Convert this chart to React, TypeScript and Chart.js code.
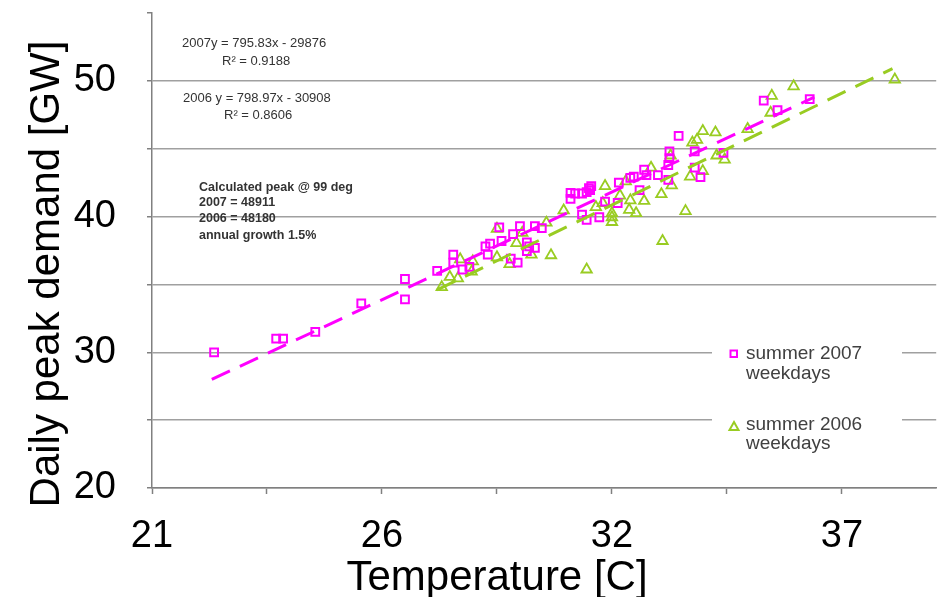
import React, { useEffect, useRef } from "react";
import { Chart, registerables } from "chart.js";

Chart.register(...registerables);

// Temperatures in degrees F (axis labelled in C), peak demand in GW
const temp2007 = [72.7, 75.4, 75.7, 77.1, 79.1, 81.0, 81.0, 82.4, 83.1, 83.1, 83.5, 83.8, 84.5, 84.7, 84.6, 85.2, 85.1, 85.7, 86.0, 86.65, 86.95, 85.6, 85.9, 86.3, 86.4, 86.65, 86.3, 88.2, 88.2, 88.4, 88.7, 89.0, 89.1, 89.05, 88.9, 88.7, 88.9, 89.45, 89.7, 90.25, 90.3, 90.8, 90.95, 91.2, 91.4, 91.5, 92.0, 92.45, 92.45, 92.5, 92.5, 92.9, 93.6, 93.6, 93.85, 94.85, 96.6, 97.2, 98.6];
const peak2007 = [30.0, 31.0, 31.0, 31.5, 33.6, 35.4, 33.9, 36.0, 37.2, 36.6, 36.1, 36.3, 37.8, 38.0, 37.2, 38.2, 39.2, 38.7, 39.3, 39.3, 39.15, 36.9, 36.6, 38.1, 37.8, 37.7, 37.45, 41.75, 41.3, 41.7, 41.7, 42.1, 42.25, 41.95, 41.8, 40.15, 39.75, 39.95, 41.1, 41.0, 42.5, 42.85, 42.95, 41.95, 43.45, 43.05, 43.05, 42.7, 43.8, 44.3, 44.8, 45.95, 44.8, 43.6, 42.9, 44.7, 48.55, 47.85, 48.65];

const temp2006 = [82.6, 82.95, 83.3, 83.4, 83.9, 83.95, 85.0, 85.0, 85.55, 85.85, 86.1, 86.5, 87.15, 87.35, 87.9, 88.9, 89.3, 89.6, 89.7, 90.0, 90.0, 90.0, 90.35, 90.6, 90.75, 90.8, 91.05, 91.4, 91.7, 92.15, 92.6, 92.2, 93.2, 92.55, 93.4, 93.95, 93.5, 93.7, 93.95, 94.5, 94.55, 94.9, 95.9, 96.9, 96.95, 97.9, 102.3];
const peak2006 = [34.8, 35.55, 35.45, 36.85, 35.95, 36.7, 37.0, 39.1, 36.5, 38.05, 38.8, 37.2, 39.55, 37.15, 40.45, 36.1, 40.7, 41.0, 42.25, 40.25, 39.95, 39.6, 41.55, 42.6, 40.5, 41.2, 40.25, 41.15, 43.6, 41.65, 42.3, 38.2, 40.4, 44.5, 42.95, 43.35, 45.45, 45.65, 46.3, 46.2, 44.5, 44.2, 46.45, 47.65, 48.9, 49.6, 50.1];

const trend2007X = [72.6, 98.8];
const trend2007Y = [28.0, 48.8];
const trend2006X = [82.4, 102.2];
const trend2006Y = [34.6, 50.9];

const xTickValues = [70, 80, 90, 100];
const xTickLabels = ["21", "26", "32", "37"];
const yTickValues = [20, 30, 40, 50];

const equationLines = ["2007y = 795.83x - 29876", "R\u00B2 = 0.9188", "2006 y = 798.97x - 30908", "R\u00B2 = 0.8606"];
const peakNoteLines = ["Calculated peak @ 99 deg", "2007 = 48911", "2006 = 48180", "annual growth 1.5%"];
const legendLabels = [["summer 2007", "weekdays"], ["summer 2006", "weekdays"]];

const PINK = "#FF00FF";
const GREEN = "#99CC22";
const FONT = "'Liberation Sans', Arial, sans-serif";

const toPts = (xs: number[], ys: number[]) => xs.map((x, i) => ({ x, y: ys[i] }));

const overlayPlugin = {
  id: "overlay",
  afterDraw(chart: any) {
    const ctx = chart.ctx as CanvasRenderingContext2D;
    ctx.save();
    // equations
    ctx.fillStyle = "#333333";
    ctx.textBaseline = "middle";
    ctx.textAlign = "left";
    ctx.font = `13px ${FONT}`;
    const eqPos = [[182, 43], [222, 61], [183, 98], [224, 115]];
    equationLines.forEach((t, i) => ctx.fillText(t, eqPos[i][0], eqPos[i][1]));
    ctx.font = `bold 12.5px ${FONT}`;
    const notePos = [[199, 188], [199, 203], [199, 219], [199, 236]];
    peakNoteLines.forEach((t, i) => ctx.fillText(t, notePos[i][0], notePos[i][1]));

    // legend box
    ctx.fillStyle = "#ffffff";
    ctx.fillRect(712, 337, 190, 122);
    ctx.lineWidth = 2;
    ctx.strokeStyle = PINK;
    ctx.strokeRect(730.5, 350.5, 6.5, 6.5);
    ctx.strokeStyle = GREEN;
    ctx.beginPath();
    ctx.moveTo(734, 422);
    ctx.lineTo(738.5, 430);
    ctx.lineTo(729.5, 430);
    ctx.closePath();
    ctx.stroke();
    ctx.fillStyle = "#404040";
    ctx.font = `19px ${FONT}`;
    ctx.fillText(legendLabels[0][0], 746, 354);
    ctx.fillText(legendLabels[0][1], 746, 374);
    ctx.fillText(legendLabels[1][0], 746, 425);
    ctx.fillText(legendLabels[1][1], 746, 444);

    // axis titles
    ctx.fillStyle = "#000000";
    ctx.font = `42px ${FONT}`;
    ctx.textAlign = "center";
    ctx.textBaseline = "alphabetic";
    ctx.fillText("Temperature [C]", 497, 590);
    ctx.translate(59, 274);
    ctx.rotate(-Math.PI / 2);
    ctx.fillText("Daily peak demand [GW]", 0, 0);
    ctx.restore();
  },
};

export default function App() {
  const ref = useRef<HTMLCanvasElement | null>(null);
  useEffect(() => {
    if (!ref.current) return;
    const chart = new Chart(ref.current, {
      type: "scatter",
      data: {
        datasets: [
          {
            type: "line",
            data: toPts(trend2007X, trend2007Y),
            borderColor: PINK,
            borderWidth: 3,
            borderDash: [20, 11],
            pointRadius: 0,
            fill: false,
          } as any,
          {
            type: "line",
            data: toPts(trend2006X, trend2006Y),
            borderColor: GREEN,
            borderWidth: 3,
            borderDash: [20, 11],
            pointRadius: 0,
            fill: false,
          } as any,
          {
            label: "summer 2007 weekdays",
            data: toPts(temp2007, peak2007),
            pointStyle: "rect",
            pointRadius: 5.5,
            borderColor: PINK,
            backgroundColor: "rgba(255,255,255,0)",
            borderWidth: 2,
          },
          {
            label: "summer 2006 weekdays",
            data: toPts(temp2006, peak2006),
            pointStyle: "triangle",
            pointRadius: 6,
            borderColor: GREEN,
            backgroundColor: "rgba(255,255,255,0)",
            borderWidth: 1.8,
          },
        ],
      },
      options: {
        responsive: false,
        animation: false,
        layout: { padding: { top: 13, right: 0, left: 0, bottom: 0 } },
        plugins: { legend: { display: false }, tooltip: { enabled: false } },
        scales: {
          x: {
            type: "linear",
            position: "bottom",
            min: 70,
            max: 104.1,
            ticks: {
              stepSize: 5,
              includeBounds: false,
              autoSkip: false,
              maxRotation: 0,
              color: "#000",
              font: { family: FONT, size: 38 },
              padding: 20,
              callback: (v: any) => {
                const i = xTickValues.indexOf(Number(v));
                return i >= 0 ? xTickLabels[i] : "";
              },
            },
            grid: { drawOnChartArea: false, tickLength: 6, tickColor: "#808080", tickWidth: 1.5 },
            border: { color: "#808080", width: 1.5 },
            afterFit: (s: any) => {
              s.height = 109;
              s.paddingLeft = 0;
              s.paddingRight = 0;
            },
          },
          y: {
            type: "linear",
            min: 20,
            max: 55,
            ticks: {
              stepSize: 5,
              autoSkip: false,
              color: "#000",
              font: { family: FONT, size: 38 },
              padding: 31,
              callback: (v: any) => (yTickValues.includes(Number(v)) ? String(v) : ""),
            },
            grid: {
              color: (c: any) => (c.tick && c.tick.value === 55 ? "rgba(0,0,0,0)" : "#a0a0a0"),
              lineWidth: 1.5,
              tickLength: 5,
              tickColor: "#808080",
              tickWidth: 1.5,
            },
            border: { color: "#808080", width: 1.5 },
            afterFit: (s: any) => {
              s.width = 152;
              s.paddingTop = 0;
              s.paddingBottom = 0;
            },
          },
        },
      },
      plugins: [overlayPlugin],
    });
    return () => chart.destroy();
  }, []);
  return (
    <div style={{ position: "fixed", left: 0, top: 0, width: 937, height: 597, overflow: "hidden", background: "#fff" }}>
      <canvas ref={ref} width={944} height={597} style={{ display: "block" }} />
    </div>
  );
}
